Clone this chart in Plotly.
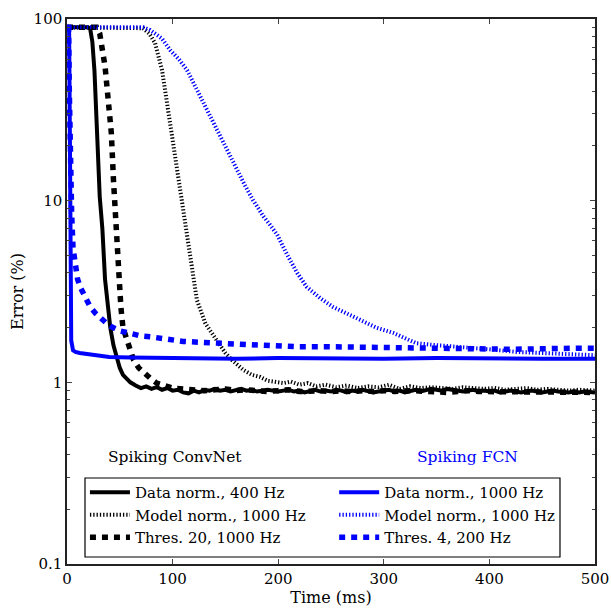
import plotly.graph_objects as go

# ---- Spiking ConvNet ----
conv_data_t = [0, 10, 20, 22, 24, 26, 27.5, 29, 31, 33.5, 36, 38.5, 41, 44, 48, 50, 53, 56,
               60, 65, 70, 75, 80, 85, 90, 95, 100, 105, 110, 115, 120, 125, 130, 135, 140,
               145, 150, 155, 160, 165, 170, 175, 180, 185, 190, 195, 200, 205, 210, 215,
               220, 225, 230, 235, 240, 245, 250, 255, 260, 265, 270, 275, 280, 285, 290,
               295, 300, 305, 310, 315, 320, 325, 330, 335, 340, 345, 350, 355, 360, 365,
               370, 375, 380, 385, 390, 395, 400, 405, 410, 415, 420, 425, 430, 435, 440,
               445, 450, 455, 460, 465, 470, 475, 480, 485, 490, 495, 500]
conv_data_err = [90, 90, 90, 88, 75, 52, 36, 20, 10.5, 7, 3.7, 2.6, 2.0, 1.6, 1.33, 1.2, 1.1, 1.05,
                 1.00, 0.96, 0.93, 0.95, 0.92, 0.94, 0.91, 0.93, 0.90, 0.91, 0.88, 0.87, 0.90,
                 0.88, 0.91, 0.90, 0.92, 0.90, 0.91, 0.89, 0.91, 0.92, 0.90, 0.91, 0.89, 0.90,
                 0.91, 0.90, 0.89, 0.90, 0.91, 0.89, 0.90, 0.88, 0.90, 0.91, 0.89, 0.90, 0.89,
                 0.91, 0.90, 0.88, 0.90, 0.89, 0.91, 0.90, 0.88, 0.89, 0.90, 0.91, 0.89, 0.90,
                 0.88, 0.90, 0.91, 0.89, 0.90, 0.92, 0.91, 0.90, 0.92, 0.91, 0.90, 0.89, 0.90,
                 0.91, 0.89, 0.90, 0.89, 0.90, 0.88, 0.89, 0.90, 0.89, 0.88, 0.89, 0.90, 0.89,
                 0.88, 0.89, 0.90, 0.89, 0.88, 0.88, 0.89, 0.88, 0.89, 0.88, 0.88]

conv_model_t = [0, 60, 72, 78, 83.4, 90, 94.8, 99.5, 104.3, 109, 113.7, 118.5, 123, 131, 142,
                150, 156, 167, 175, 183, 190, 198, 205, 212, 220, 228, 236, 245, 255, 265,
                275, 285, 295, 305, 315, 325, 335, 345, 355, 365, 375, 385, 395, 405, 415,
                425, 435, 445, 455, 465, 475, 485, 495, 500]
conv_model_err = [90, 90, 89, 83, 73.7, 52.3, 34.4, 22.4, 14.7, 9.5, 6.6, 4.3, 2.84, 2.11, 1.71,
                  1.45, 1.33, 1.17, 1.10, 1.07, 1.02, 1.00, 0.99, 1.01, 0.97, 0.99, 0.95, 0.97,
                  0.94, 0.96, 0.93, 0.95, 0.94, 0.97, 0.92, 0.95, 0.93, 0.94, 0.93, 0.92, 0.94,
                  0.93, 0.92, 0.93, 0.91, 0.92, 0.93, 0.91, 0.92, 0.91, 0.90, 0.91, 0.90, 0.90]

conv_thres_t = [0, 20, 28, 31, 36, 39, 42, 44, 46.5, 49, 51, 53, 58, 63, 68, 72, 76, 80, 85,
                90, 95, 100, 110, 120, 130, 140, 150, 160, 170, 180, 190, 200, 210, 220, 230,
                240, 250, 260, 270, 280, 290, 300, 310, 320, 330, 340, 350, 360, 370, 380,
                390, 400, 410, 420, 430, 440, 450, 460, 470, 480, 490, 500]
conv_thres_err = [90, 90, 90, 83, 55, 36, 23.5, 13, 6.9, 3.66, 2.6, 2.0, 1.6, 1.33, 1.2, 1.14,
                  1.1, 1.04, 0.99, 0.97, 0.95, 0.93, 0.92, 0.91, 0.90, 0.91, 0.92, 0.90, 0.91,
                  0.90, 0.89, 0.90, 0.91, 0.89, 0.90, 0.90, 0.89, 0.90, 0.89, 0.90, 0.89, 0.90,
                  0.89, 0.90, 0.90, 0.89, 0.88, 0.88, 0.89, 0.90, 0.89, 0.89, 0.88, 0.89, 0.89,
                  0.88, 0.89, 0.89, 0.88, 0.88, 0.89, 0.88]

# ---- Spiking FCN ----
fcn_data_t = [0, 2, 2.8, 3.3, 4, 5.7, 8, 12, 20, 30, 40, 60, 100, 130, 160, 200, 250, 300,
              350, 400, 450, 500]
fcn_data_err = [90, 90, 20, 3, 1.7, 1.5, 1.47, 1.45, 1.43, 1.41, 1.38, 1.37, 1.36, 1.36, 1.35,
                1.36, 1.35, 1.35, 1.36, 1.35, 1.35, 1.35]

fcn_model_t = [0, 60, 72, 78.7, 90, 97.6, 106, 113.7, 121, 129, 137, 145, 153, 161, 168, 176,
               182, 186, 192, 199, 208, 218, 227, 240, 252, 265, 278, 293, 309, 320, 331, 350,
               370, 400, 426, 460, 489, 500]
fcn_model_err = [90, 90, 90, 87, 78, 67.5, 60, 52.3, 43, 34.4, 28, 22.4, 18, 14.7, 12.3, 10.1,
                 8.9, 8.2, 7.4, 6.5, 5.1, 4.0, 3.35, 2.9, 2.6, 2.4, 2.2, 2.0, 1.87, 1.75, 1.64,
                 1.6, 1.57, 1.52, 1.47, 1.44, 1.41, 1.41]

fcn_thres_t = [0, 1.5, 2.2, 3, 4.4, 5.7, 7.6, 10, 13, 17, 22, 27, 31, 40, 50, 57, 70, 79, 88,
               110, 135, 170, 218, 246, 300, 372, 420, 477, 500]
fcn_thres_err = [90, 90, 40, 12.9, 8.5, 5.5, 4.3, 3.7, 3.3, 2.95, 2.6, 2.4, 2.29, 2.05, 1.92,
                 1.87, 1.8, 1.78, 1.75, 1.68, 1.65, 1.61, 1.57, 1.57, 1.55, 1.52, 1.52, 1.54, 1.54]

x_ticks = [0, 100, 200, 300, 400, 500]
y_ticks = [0.1, 1, 10, 100]
y_ticktext = ["0.1", "1", "10", "100"]

BLACK = "#000000"
BLUE = "#0000ff"
FONT = "DejaVu Serif"

SOLID = dict(width=4, dash="solid")
DOTTED = dict(width=4, dash="1.3px,2px")
DASHED = dict(width=5.5, dash="6px,6px")

# (name, x, y, colour, style, legend column)
series = [
    ("Data norm., 400 Hz", conv_data_t, conv_data_err, BLACK, SOLID, "legend"),
    ("Model norm., 1000 Hz", conv_model_t, conv_model_err, BLACK, DOTTED, "legend"),
    ("Thres. 20, 1000 Hz", conv_thres_t, conv_thres_err, BLACK, DASHED, "legend"),
    ("Data norm., 1000 Hz", fcn_data_t, fcn_data_err, BLUE, SOLID, "legend2"),
    ("Model norm., 1000 Hz", fcn_model_t, fcn_model_err, BLUE, DOTTED, "legend2"),
    ("Thres. 4, 200 Hz", fcn_thres_t, fcn_thres_err, BLUE, DASHED, "legend2"),
]

fig = go.Figure()
for name, t, err, color, style, leg in series:
    fig.add_trace(go.Scatter(
        x=t, y=err, mode="lines", name=name, legend=leg,
        line=dict(color=color, width=style["width"], dash=style["dash"]),
    ))

minor_vals = [m * 10 ** e for e in (-1, 0, 1) for m in range(2, 10)]

legend_common = dict(
    orientation="v", y=0.1615, xanchor="left", yanchor="top",
    bgcolor="rgba(0,0,0,0)", borderwidth=0,
    font=dict(family=FONT, size=15, color="black"),
    traceorder="normal", itemwidth=40, tracegroupgap=0,
)

fig.update_layout(
    width=611, height=608,
    margin=dict(l=67, r=16, t=19, b=44, autoexpand=False),
    paper_bgcolor="white", plot_bgcolor="white",
    font=dict(family=FONT, size=14.5, color="black"),
    showlegend=True,
    legend=dict(x=0.034, **legend_common),
    legend2=dict(x=0.506, **legend_common),
    xaxis=dict(
        range=[0, 500], tickvals=x_ticks, ticks="inside", ticklen=5,
        showline=True, linecolor="#222", linewidth=1.5, mirror="allticks",
        showgrid=False, zeroline=False, automargin=False,
        tickfont=dict(size=15),
        title=dict(text="Time (ms)", font=dict(size=16), standoff=4),
    ),
    yaxis=dict(
        type="log", range=[-1, 2], tickvals=y_ticks, ticktext=y_ticktext,
        ticks="inside", ticklen=5, showline=True, linecolor="#222", linewidth=1.5,
        mirror="allticks", showgrid=False, zeroline=False, automargin=False,
        tickfont=dict(size=15),
        minor=dict(ticks="inside", ticklen=3, tickvals=minor_vals, showgrid=False),
        title=dict(text="Error (%)", font=dict(size=16), standoff=6),
    ),
    shapes=[
        # frame shared by both legend columns
        dict(type="rect", xref="paper", yref="paper", x0=0.0341, x1=0.9337,
             y0=0.0128, y1=0.1578, line=dict(color="black", width=1.2),
             fillcolor="rgba(0,0,0,0)", layer="above"),
    ],
    annotations=[
        dict(text="Spiking ConvNet", x=0.2045, y=0.196, xref="paper", yref="paper",
             xanchor="center", yanchor="middle", showarrow=False,
             font=dict(family=FONT, size=15.5, color=BLACK)),
        dict(text="Spiking FCN", x=0.759, y=0.196, xref="paper", yref="paper",
             xanchor="center", yanchor="middle", showarrow=False,
             font=dict(family=FONT, size=15.5, color=BLUE)),
    ],
)

fig.write_html("out.html")
